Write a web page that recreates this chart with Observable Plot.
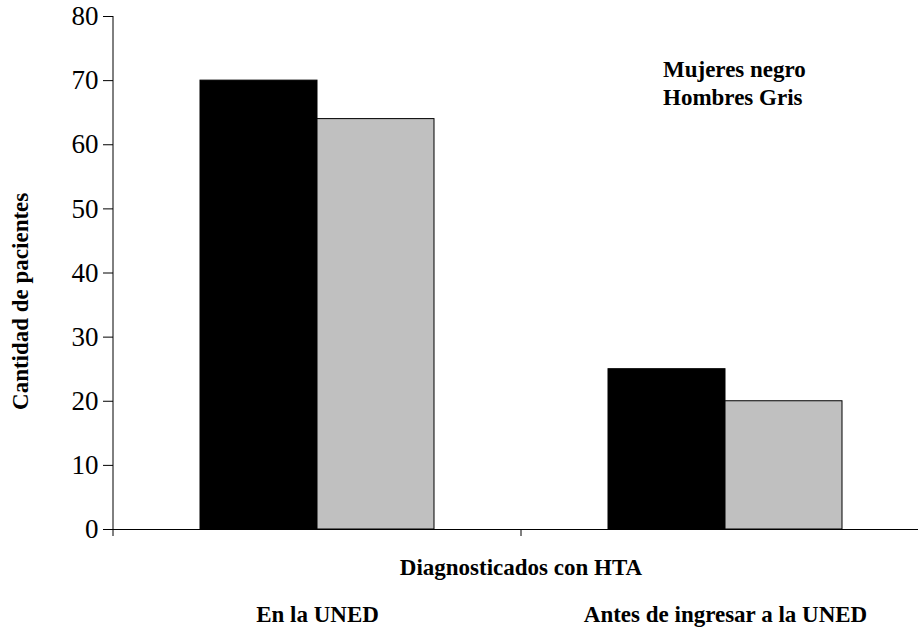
<!DOCTYPE html>
<html>
<head>
<meta charset="utf-8">
<script src="https://cdn.jsdelivr.net/npm/d3@7"></script>
<script src="https://cdn.jsdelivr.net/npm/@observablehq/plot@0.6"></script>
<style>
  html, body { margin: 0; padding: 0; background: #fff; }
  #chart { width: 918px; height: 628px; }
  #chart svg text { font-family: 'Liberation Serif', 'Times New Roman', serif !important; }
</style>
</head>
<body>
<div id="chart"></div>
<script>
// ---- data ----
const groups = ["En la UNED", "Antes de ingresar a la UNED"];
const series = ["Mujeres", "Hombres"];
const mujeres = [70, 25];
const hombres = [64, 20];
const yTicks = [0, 10, 20, 30, 40, 50, 60, 70, 80];
const seriesColors = ["#000000", "#c0c0c0"];
const xTitle = "Diagnosticados con HTA";
const yTitle = "Cantidad de pacientes";
const legendLines = ["Mujeres negro", "Hombres Gris"];

const data = groups.flatMap((g, i) => [
  {group: g, sex: series[0], value: mujeres[i]},
  {group: g, sex: series[1], value: hombres[i]}
]);

const FONT = "'Liberation Serif', 'Times New Roman', serif";

const plot = Plot.plot({
  width: 918,
  height: 628,
  marginTop: 16,
  marginBottom: 99,
  marginLeft: 113,
  marginRight: 0,
  style: {fontFamily: FONT, background: "white", color: "black", overflow: "hidden"},
  fx: {domain: groups, range: [113, 929], paddingInner: 0, paddingOuter: 0, label: null, axis: null},
  x: {domain: series, paddingInner: 0, paddingOuter: 0.729, axis: null},
  y: {domain: [0, 80], label: null, axis: null},
  color: {domain: series, range: seriesColors},
  marks: [
    Plot.barY(data, {fx: "group", x: "sex", y: "value", fill: "sex", stroke: "black", strokeWidth: 1}),
    Plot.ruleY([0], {stroke: "black", strokeWidth: 1}),
    Plot.axisY(yTicks, {tickSize: 10, tickPadding: 5, fontSize: 27, fontFamily: FONT, label: null, stroke: "black"}),
    Plot.axisFx({anchor: "bottom", tickSize: 0, tickPadding: 76, fontSize: 23, fontFamily: FONT, fontWeight: "bold", label: null})
  ]
});

document.getElementById("chart").appendChild(plot);

// decorations positioned with the plot's own scales
const svg = d3.select(plot);
svg.selectAll("text").style("font-family", FONT).style("font-variant", "normal");
const fx = plot.scale("fx");
const y = plot.scale("y");
const x0 = fx.apply(groups[0]);
const yBase = y.apply(0);

// y axis line
svg.append("line")
  .attr("x1", x0).attr("x2", x0)
  .attr("y1", y.apply(yTicks[yTicks.length - 1])).attr("y2", yBase)
  .attr("stroke", "black");

// category boundary ticks
groups.forEach(g => {
  const gx = fx.apply(g);
  svg.append("line")
    .attr("x1", gx).attr("x2", gx)
    .attr("y1", yBase).attr("y2", yBase + 7)
    .attr("stroke", "black");
});

// x title
svg.append("text")
  .attr("x", fx.apply(groups[1]))
  .attr("y", yBase + 46)
  .attr("text-anchor", "middle")
  .attr("font-family", FONT)
  .attr("font-size", 23)
  .attr("font-weight", "bold")
  .text(xTitle);

// y title
svg.append("text")
  .attr("transform", `translate(28, ${y.apply(35.5)}) rotate(-90)`)
  .attr("text-anchor", "middle")
  .attr("font-family", FONT)
  .attr("font-size", 23)
  .attr("font-weight", "bold")
  .text(yTitle);

// legend text
legendLines.forEach((t, i) => {
  svg.append("text")
    .attr("x", 663)
    .attr("y", 77 + i * 28)
    .attr("text-anchor", "start")
    .attr("font-family", FONT)
    .attr("font-size", 23)
    .attr("font-weight", "bold")
    .text(t);
});
</script>
</body>
</html>
